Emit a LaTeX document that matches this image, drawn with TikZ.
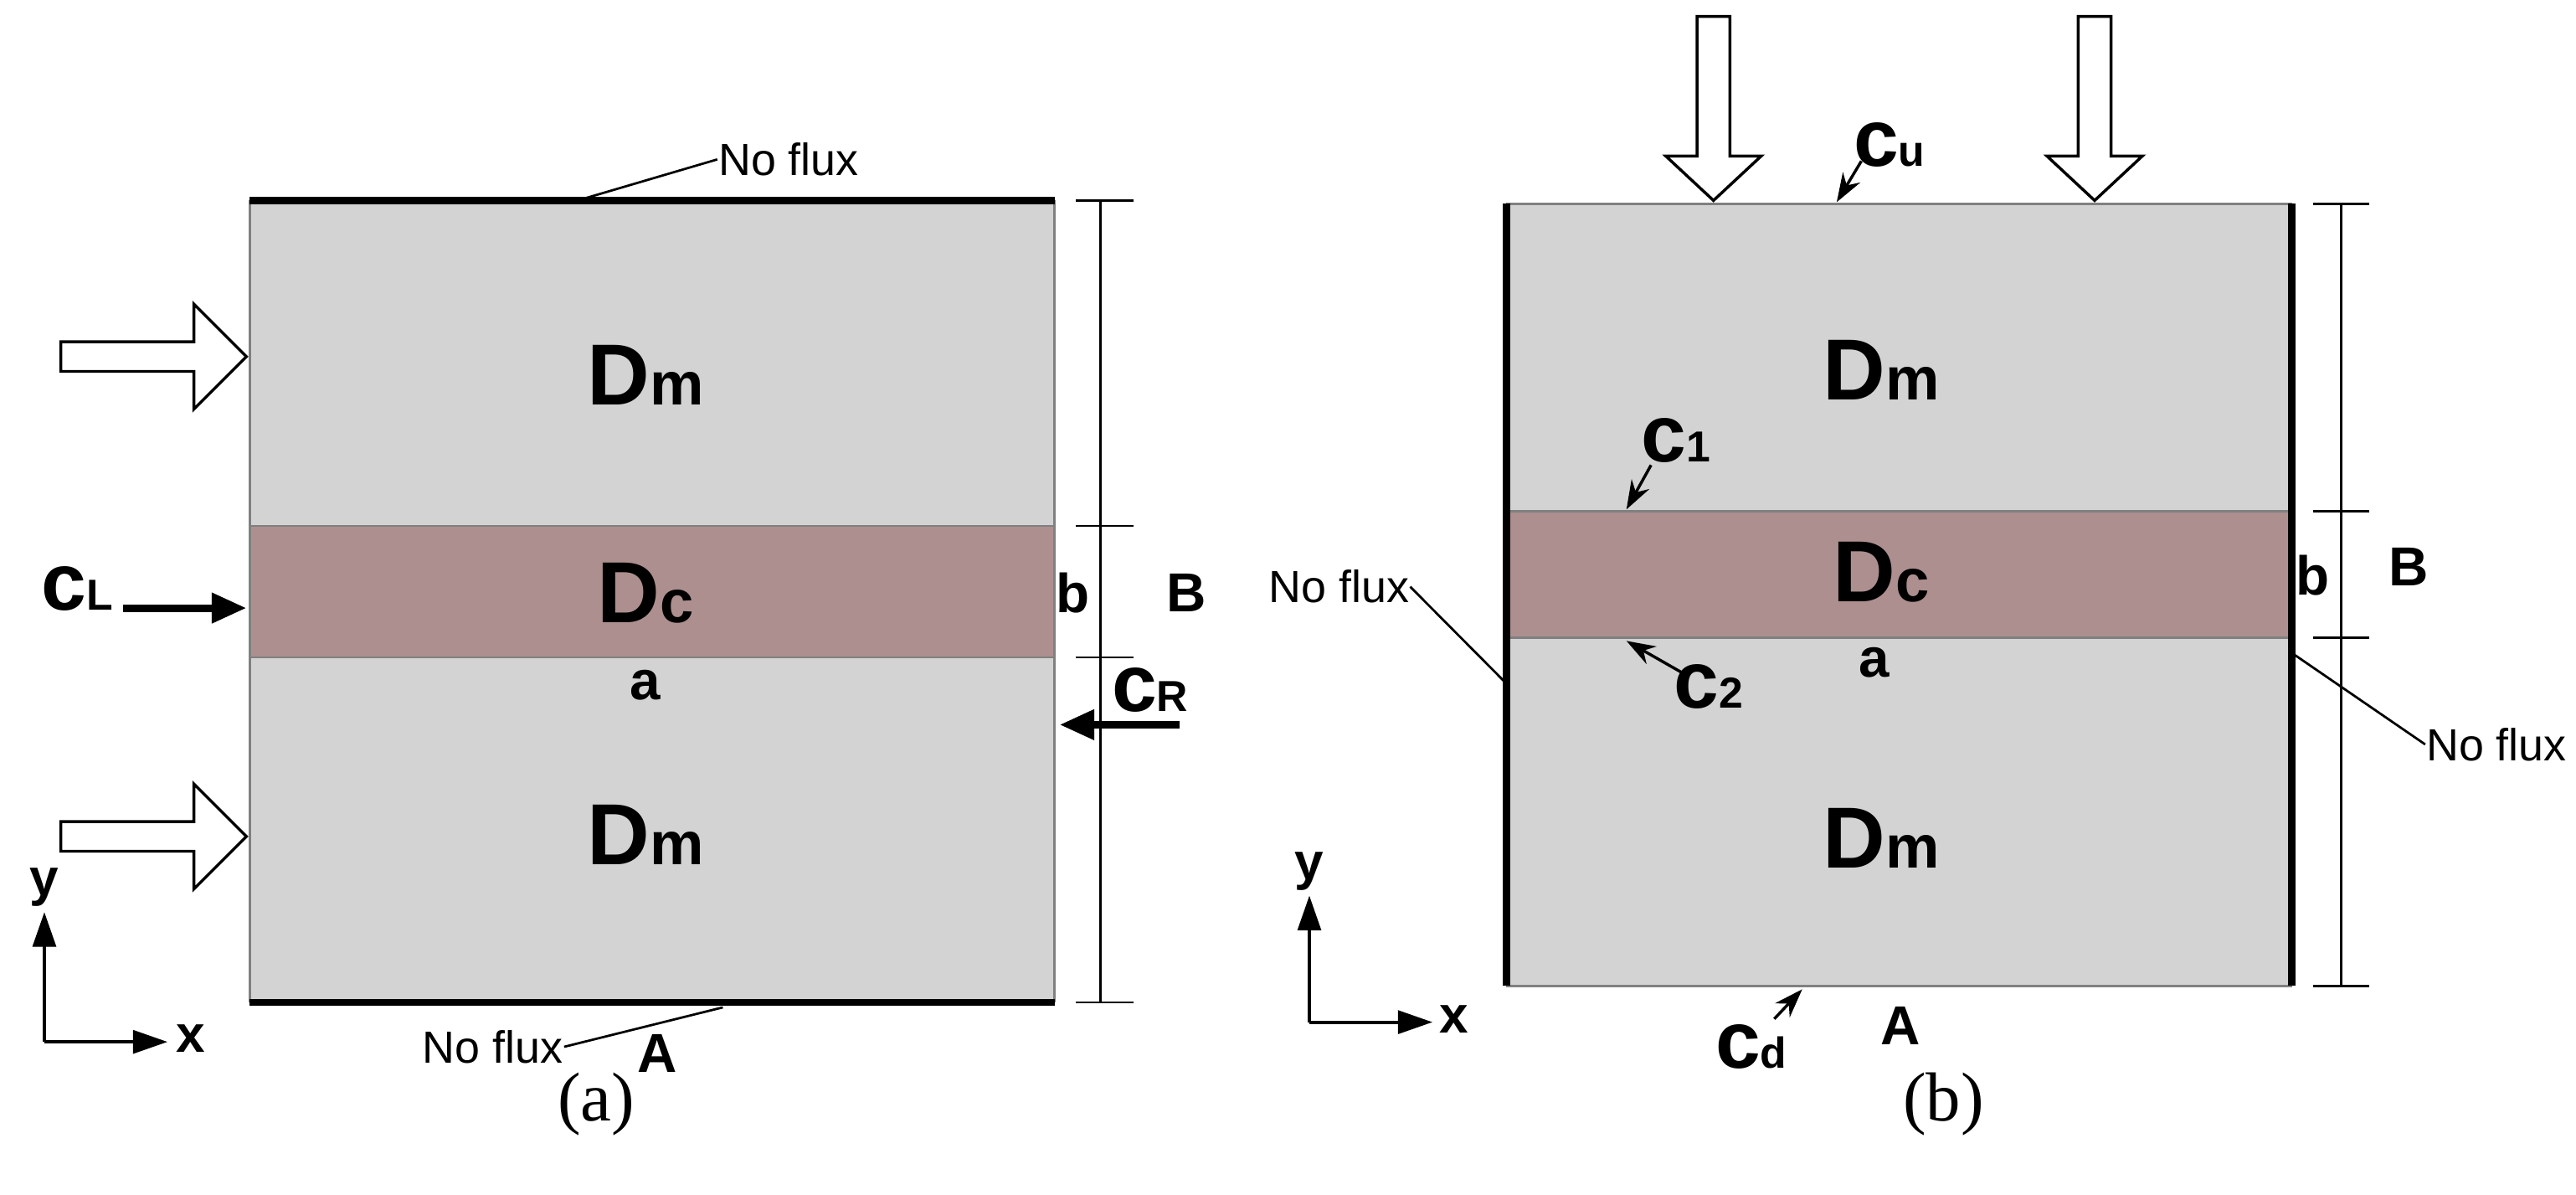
\documentclass[tikz,border=0pt]{standalone}
\usepackage{fontspec}
\setmainfont{Liberation Sans}
\newfontfamily\capfont{Liberation Serif}
\usetikzlibrary{arrows.meta}
\definecolor{gr}{HTML}{D3D3D3}
\definecolor{br}{HTML}{AD8F8F}
\newcommand{\BigD}[1]{{\fontsize{15}{15}\selectfont\bfseries D}{\fontsize{10.5}{11}\selectfont\bfseries #1}}
\newcommand{\BigC}[1]{{\fontsize{14}{14}\selectfont\bfseries c}{\fontsize{7.5}{8}\selectfont\bfseries #1}}
\begin{document}
\begin{tikzpicture}[x=0.01cm,y=-0.01cm,
  lbl/.style={font=\fontsize{9.5}{10}\selectfont\bfseries, inner sep=0pt},
  nf/.style={font=\fontsize{7.8}{8}\selectfont, inner sep=0pt},
  hollow/.style={draw=black, fill=white, line width=0.5pt},
  thick line/.style={line width=1.2pt},
  arr/.style={-{Triangle[length=6pt,width=5pt]}, line width=1.3pt},
  sarr/.style={-{Stealth[length=5pt,width=3.5pt]}, line width=0.5pt}]
\useasboundingbox (0,0) rectangle (1568,727);
% ===== (a)
\fill[gr] (152,122) rectangle (642,610);
\fill[br] (152,320) rectangle (642,400);
\draw[gray, line width=0.4pt] (152,122) -- (152,610) (642,122) -- (642,610) (152,320) -- (642,320) (152,400) -- (642,400);
\draw[thick line] (152,122) -- (642,122);
\draw[thick line] (152,610) -- (642,610);
\node (Dm1) at (393,228) {\BigD{m}};
\node (Dc1) at (393,361) {\BigD{c}};
\node (Dm2) at (393,508) {\BigD{m}};
\node[lbl] (a1) at (393,417) {a};
\node[lbl] (b1) at (653,361) {b};
\node[lbl] (B1) at (722,361) {B};
\node[lbl] (A1) at (400,641) {A};
\draw (670,122) -- (670,610);
\foreach \yy in {122,320,400,610} \draw (655,\yy) -- (690,\yy);
\foreach \yy in {217,509} \draw[hollow] (37,\yy-9) -- (118,\yy-9) -- (118,\yy-32) -- (150,\yy) -- (118,\yy+32) -- (118,\yy+9) -- (37,\yy+9) -- cycle;
\node (cL) at (47,358) {\BigC{L}};
\coordinate (cLe) at (150,370);
\draw[arr] (75,370) -- (cLe);
\node (cR) at (700,420) {\BigC{R}};
\draw[arr] (718,441) -- (645,441);
\node[nf] (nf1) at (480,97) {No flux};
\draw[line width=0.4pt] (355,121) -- (nf1.west);
\node[nf] (nf2) at (300,637) {No flux};
\draw[line width=0.4pt] (nf2.east) -- (440,613);
\draw[-{Triangle[length=6pt,width=4pt]}, line width=0.6pt] (27,634) -- (27,555);
\draw[-{Triangle[length=6pt,width=4pt]}, line width=0.6pt] (27,634) -- (102,634);
\node[font=\fontsize{9}{9}\selectfont\bfseries] (ya) at (27,540) {y};
\node[font=\fontsize{9}{9}\selectfont\bfseries] (xa) at (116,632) {x};
\node[font=\capfont\fontsize{12}{12}\selectfont] (capa) at (363,672) {(a)};
% ===== (b)
\fill[gr] (917,124) rectangle (1395,600);
\fill[br] (917,311) rectangle (1395,388);
\draw[gray, line width=0.4pt] (917,124) -- (1395,124) (917,600) -- (1395,600) (917,311) -- (1395,311) (917,388) -- (1395,388);
\draw[thick line] (917,124) -- (917,600);
\draw[thick line] (1395,124) -- (1395,600);
\node (Dm3) at (1145,225) {\BigD{m}};
\node (Dc2) at (1145,348) {\BigD{c}};
\node (Dm4) at (1145,510) {\BigD{m}};
\node[lbl] (a2) at (1141,403) {a};
\node[lbl] (b2) at (1408,350) {b};
\node[lbl] (B2) at (1466,345) {B};
\node[lbl] (A2) at (1157,624) {A};
\draw (1425,124) -- (1425,600);
\foreach \yy in {124,311,388,600} \draw (1408,\yy) -- (1442,\yy);
\foreach \xx in {1043,1275} \draw[hollow] (\xx-10,10) -- (\xx-10,95) -- (\xx-29,95) -- (\xx,122) -- (\xx+29,95) -- (\xx+10,95) -- (\xx+10,10) -- cycle;
\node (cu) at (1150,88) {\BigC{u}};
\draw[sarr] (1133,98) -- (1118,123);
\node (c1) at (1020,268) {\BigC{1}};
\draw[sarr] (1005,283) -- (990,310);
\node (c2) at (1040,418) {\BigC{2}};
\draw[sarr] (1025,410) -- (990,390);
\node (cd) at (1066,637) {\BigC{d}};
\draw[sarr] (1080,620) -- (1097,602);
\node[nf] (nf3) at (815,357) {No flux};
\draw[line width=0.4pt] (nf3.east) -- (916,415);
\node[nf, anchor=east] (nf4) at (1563,453) {No flux};
\draw[line width=0.4pt] (1396,398) -- (nf4.west);
\draw[-{Triangle[length=6pt,width=4pt]}, line width=0.6pt] (797,622) -- (797,545);
\draw[-{Triangle[length=6pt,width=4pt]}, line width=0.6pt] (797,622) -- (872,622);
\node[font=\fontsize{9}{9}\selectfont\bfseries] (yb) at (797,530) {y};
\node[font=\fontsize{9}{9}\selectfont\bfseries] (xb) at (885,620) {x};
\node[font=\capfont\fontsize{12}{12}\selectfont] (capb) at (1183,672) {(b)};
\end{tikzpicture}
\end{document}
